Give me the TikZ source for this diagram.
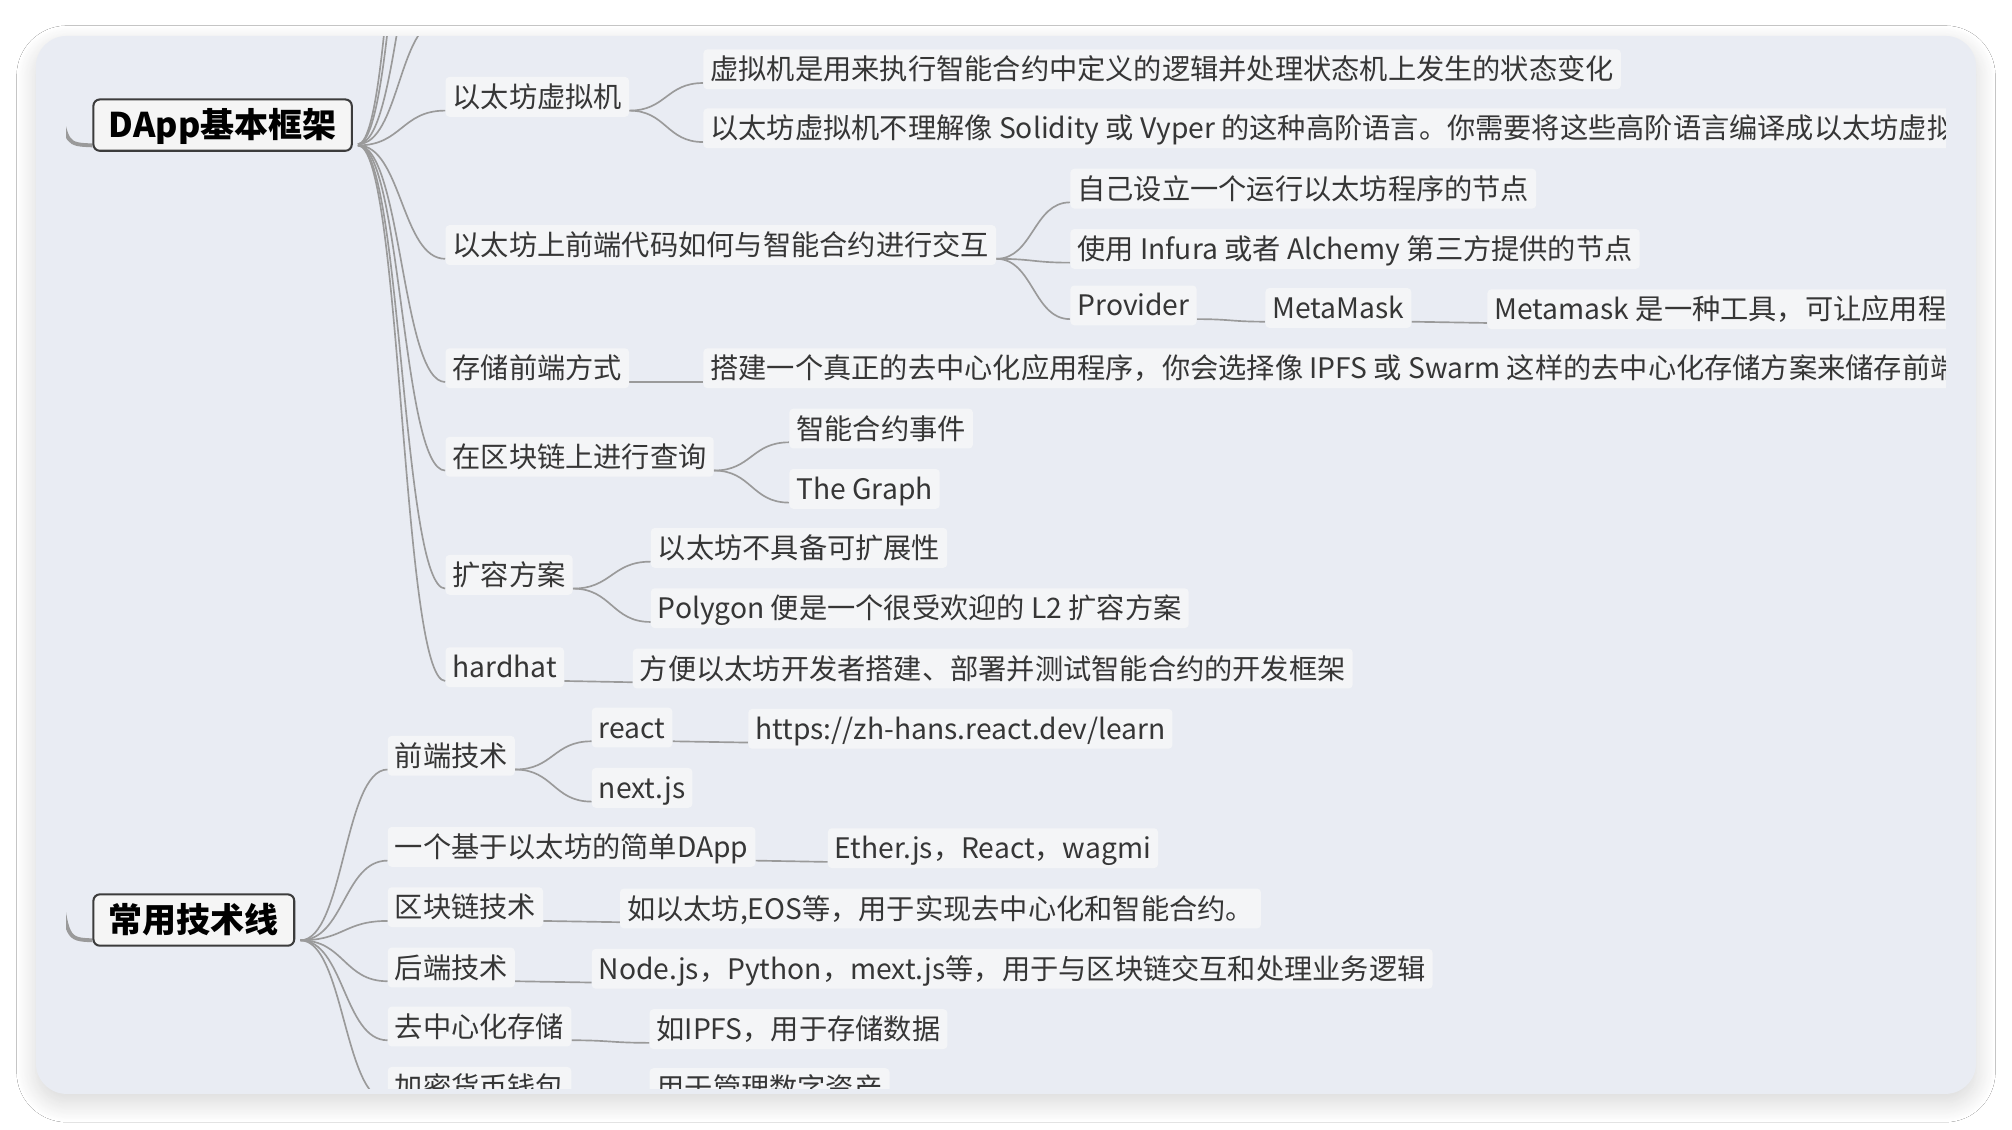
\documentclass[tikz,border=0pt]{standalone}
\usepackage{fontspec}
\setmainfont{Noto Sans CJK SC}
\usetikzlibrary{calc,shadows.blur}
\pgfdeclarelayer{bg}
\pgfsetlayers{bg,main}

\definecolor{cardbg}{HTML}{E9ECF3}
\definecolor{boxbg}{HTML}{F4F5F7}
\definecolor{edgegray}{HTML}{9A9A9A}
\definecolor{ink}{HTML}{363636}
\definecolor{rootrim}{HTML}{3C3C3C}
\definecolor{rootbg}{HTML}{F5F5F5}

\tikzset{
  topic/.style={anchor=west, fill=boxbg, rounded corners=3pt, inner xsep=5.5pt, inner ysep=0pt,
    text height=18pt, text depth=1.5pt, minimum height=31pt, text=ink,
    font=\fontsize{22}{26}\selectfont},
  roottopic/.style={anchor=west, draw=rootrim, line width=1.6pt, fill=rootbg, rounded corners=5pt,
    inner xsep=12pt, inner ysep=0pt, text height=21pt, text depth=1.5pt, minimum height=40pt,
    text=black, font=\fontsize{26.5}{30}\selectfont\bfseries},
  edgeline/.style={draw=edgegray, line width=1.3pt},
  stubline/.style={draw=edgegray, line width=3pt}
}

% curved connector, from bottom right of one topic to bottom left of the next
\newcommand{\mmlink}[3][0pt]{\draw[edgeline] let \p1=([xshift=#1,yshift=5pt]#2.south east),
  \p2=([yshift=5pt]#3.south west) in (\p1) .. controls ({(\x1+\x2)/2},\y1) and ({(\x1+\x2)/2},\y2) .. (\p2);}

\begin{document}
\begin{tikzpicture}[x=1pt,y=-1pt]
        \useasboundingbox (0,0) rectangle (1568,880.6);
        \begin{pgfonlayer}{bg}
                \fill[white] (0,0) rectangle (1568,880.6);
                \fill[cardbg, rounded corners=24pt, blur shadow={shadow xshift=0pt, shadow yshift=-7pt,
                  shadow blur radius=15pt, shadow blur steps=24, shadow opacity=16}] (28,28) rectangle (1540,852.5);
        \end{pgfonlayer}
        \begin{scope}
        \clip (51.5,28.5) rectangle (1516.5,848);
        \node (r1) [roottopic] at (72,97.5) {DApp基本框架};
        \node (r2) [roottopic] at (72,717) {常用技术线};

        \node (v1) [topic] at (347,75.5) {以太坊虚拟机};
        \node (v2) [topic] at (548,54) {虚拟机是用来执行智能合约中定义的逻辑并处理状态机上发生的状态变化};
        \node (v3) [topic] at (548,100) {以太坊虚拟机不理解像 Solidity 或 Vyper 的这种高阶语言。你需要将这些高阶语言编译成以太坊虚拟};
        \node (v4) [topic] at (347,191) {以太坊上前端代码如何与智能合约进行交互};
        \node (v5) [topic] at (834,147) {自己设立一个运行以太坊程序的节点};
        \node (v6) [topic] at (834,194) {使用 Infura 或者 Alchemy 第三方提供的节点};
        \node (v7) [topic] at (834,238) {Provider};
        \node (v8) [topic] at (986,240) {MetaMask};
        \node (v9) [topic] at (1159,241) {Metamask 是一种工具，可让应用程序};
        \node (v10) [topic] at (347,287) {存储前端方式};
        \node (v11) [topic] at (548,287) {搭建一个真正的去中心化应用程序，你会选择像 IPFS 或 Swarm 这样的去中心化存储方案来储存前端};
        \node (v12) [topic] at (347,356) {在区块链上进行查询};
        \node (v13) [topic] at (615,334) {智能合约事件};
        \node (v14) [topic] at (615,381) {The Graph};
        \node (v15) [topic] at (347,448) {扩容方案};
        \node (v16) [topic] at (507,427) {以太坊不具备可扩展性};
        \node (v17) [topic] at (507,474) {Polygon 便是一个很受欢迎的 L2 扩容方案};
        \node (v18) [topic] at (347,520) {hardhat};
        \node (v19) [topic] at (493,521) {方便以太坊开发者搭建、部署并测试智能合约的开发框架};

        \node (w1) [topic] at (302,589) {前端技术};
        \node (w2) [topic] at (461,567) {react};
        \node (w3) [topic] at (583,568) {https://zh-hans.react.dev/learn};
        \node (w4) [topic] at (461,614) {next.js};
        \node (w5) [topic] at (302,660) {一个基于以太坊的简单DApp};
        \node (w6) [topic] at (645,661) {Ether.js，React，wagmi};
        \node (w7) [topic] at (302,707) {区块链技术};
        \node (w8) [topic] at (483,708) {如以太坊,EOS等，用于实现去中心化和智能合约。};
        \node (w9) [topic] at (302,754) {后端技术};
        \node (w10) [topic] at (461,755) {Node.js，Python，mext.js等，用于与区块链交互和处理业务逻辑};
        \node (w11) [topic] at (302,800) {去中心化存储};
        \node (w12) [topic] at (506,802) {如IPFS，用于存储数据};
        \node (w13) [topic] at (302,847) {加密货币钱包};
        \node (w14) [topic] at (506,848) {用于管理数字资产};

        % ends of branches that run out of the view
        \coordinate (u1) at (343,16);
        \coordinate (u2) at (343,-80);
        \coordinate (u3) at (343,-250);
        \coordinate (u4) at (343,-360);
        \coordinate (s1) at (46,78);
        \coordinate (s2) at (46,680);
        \end{scope}

        \begin{pgfonlayer}{bg}
        \begin{scope}
        \clip (51.5,28.5) rectangle (1516.5,848);
                \draw[stubline] (s1) .. controls (52,112.5) .. ([yshift=5pt]r1.south west);
                \draw[stubline] (s2) .. controls (52,732) .. ([yshift=5pt]r2.south west);
                \foreach \u in {u1,u2,u3,u4}
                  \draw[edgeline] let \p1=([xshift=4pt,yshift=6pt]r1.south east), \p2=(\u) in
                    (\p1) .. controls ({(\x1+\x2)/2},\y1) and ({(\x1+\x2)/2},\y2) .. (\p2);
                \mmlink[4pt]{r1}{v1}
                \mmlink[4pt]{r1}{v4}
                \mmlink[4pt]{r1}{v10}
                \mmlink[4pt]{r1}{v12}
                \mmlink[4pt]{r1}{v15}
                \mmlink[4pt]{r1}{v18}
                \mmlink{v1}{v2}
                \mmlink{v1}{v3}
                \mmlink{v4}{v5}
                \mmlink{v4}{v6}
                \mmlink{v4}{v7}
                \mmlink{v7}{v8}
                \mmlink{v8}{v9}
                \mmlink{v10}{v11}
                \mmlink{v12}{v13}
                \mmlink{v12}{v14}
                \mmlink{v15}{v16}
                \mmlink{v15}{v17}
                \mmlink{v18}{v19}
                \mmlink[4pt]{r2}{w1}
                \mmlink[4pt]{r2}{w5}
                \mmlink[4pt]{r2}{w7}
                \mmlink[4pt]{r2}{w9}
                \mmlink[4pt]{r2}{w11}
                \mmlink[4pt]{r2}{w13}
                \mmlink{w1}{w2}
                \mmlink{w1}{w4}
                \mmlink{w2}{w3}
                \mmlink{w5}{w6}
                \mmlink{w7}{w8}
                \mmlink{w9}{w10}
                \mmlink{w11}{w12}
                \mmlink{w13}{w14}
        \end{scope}
        \end{pgfonlayer}
\end{tikzpicture}
\end{document}
